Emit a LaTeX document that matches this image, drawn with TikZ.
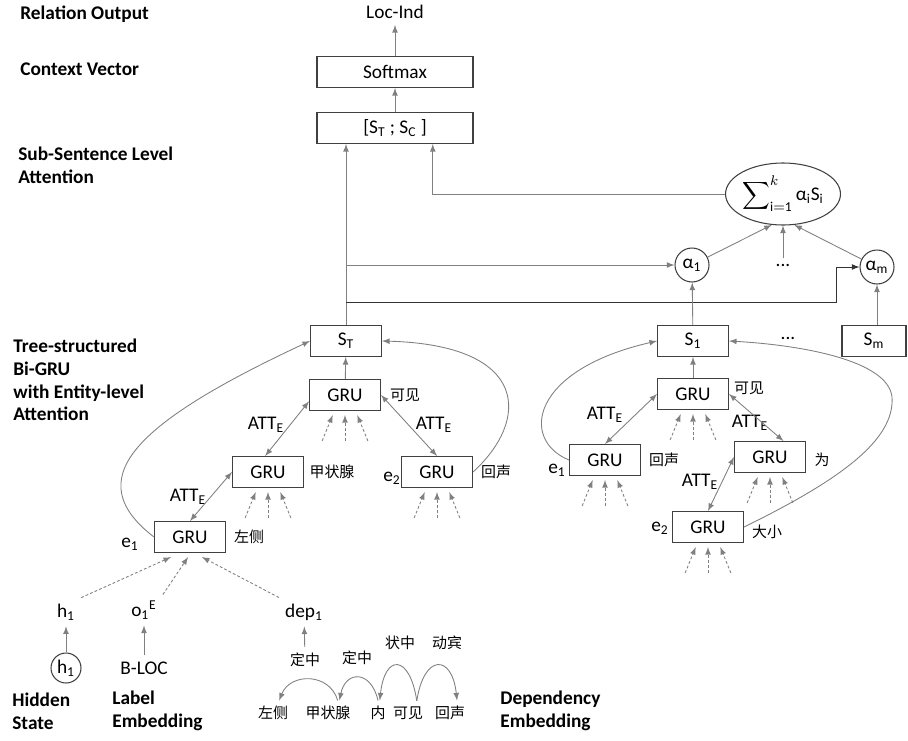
\documentclass[tikz,border=0pt]{standalone}
\usepackage{fontspec}
\setmainfont{Carlito}
\newfontfamily\cjk{Noto Sans CJK SC}
\usepackage{amsmath}
\usetikzlibrary{shapes.geometric}

\begin{document}
\begin{tikzpicture}[x=0.02cm,y=-0.02cm,
  font=\fontsize{11}{13}\selectfont,
  cellbox/.style={draw=black!75,line width=0.6pt,minimum width=1.42cm,minimum height=0.62cm,inner sep=0},
  widebox/.style={cellbox,minimum width=3.12cm},
  roundnode/.style={circle,draw=black!75,line width=0.6pt,minimum size=0.68cm,inner sep=0},
  link/.style={draw=black!50,line width=0.5pt,-{latex}},
  both/.style={link,{latex}-{latex}},
  fan/.style={link,dash pattern=on 1.6pt off 1.2pt},
  cn/.style={font=\cjk\fontsize{8.5}{10}\selectfont},
  side/.style={font=\bfseries\fontsize{11}{13}\selectfont,align=left,anchor=west,inner sep=0}]
\useasboundingbox (0,0) rectangle (908,740);

% layer names
\node[side] (lrel) at (20,14) {Relation Output};
\node[side] (lctx) at (20,69) {Context Vector};
\node[side] (latt) at (18,165) {Sub-Sentence Level\\Attention};
\node[side] (ltree) at (13,380) {Tree-structured\\Bi-GRU\\with Entity-level\\Attention};
\node[side] (lhid) at (12,711) {Hidden\\State};
\node[side] (llab) at (112,711) {Label\\Embedding};
\node[side] (ldep) at (500,711) {Dependency\\Embedding};

% output part
\node (loc) at (395,12) {Loc-Ind};
\node[widebox] (soft) at (395,72) {Softmax};
\node[widebox] (cat) at (395,128) {[S\textsubscript{T} ; S\textsubscript{C} ]};
\draw[link] (soft) -- (loc);
\draw[link] (cat) -- (soft);

\node[ellipse,draw=black!75,line width=0.6pt,minimum width=1.82cm,minimum height=1.24cm,inner sep=0] (sum) at (783,194)
  {$\displaystyle\sum\nolimits_{\mathrm{i=1}}^{k}$\,α\textsubscript{i}S\textsubscript{i}};
\node[roundnode] (a1) at (692,265) {α\textsubscript{1}};
\node[roundnode] (am) at (877,267) {α\textsubscript{m}};
\node (dd1) at (783,265) {...};

\node[cellbox] (st) at (346,341) {S\textsubscript{T}};
\node[cellbox] (s1) at (693,341) {S\textsubscript{1}};
\node[cellbox,minimum width=1.28cm] (sm) at (874,341) {S\textsubscript{m}};
\node (dd2) at (788,338) {...};

\coordinate (kink) at (836,302);
\draw[link] (st) -- (st |- cat.south);
\draw[link] (st.north |- a1) -- (a1);
\draw[link,draw=black!80] (st.north |- kink) -- (kink) |- (am.west);
\draw[link] (sum.west) -| ([xshift=21.5pt]cat.south);
\draw[link] (a1) -- (sum.250);
\draw[link] (dd1) -- (sum);
\draw[link] (am) -- (sum.290);
\draw[link] (s1) -- (a1);
\draw[link] (am |- sm.north) -- (am);

% tree of the first sub-sentence
\node[cellbox] (gv) at (345,395) {GRU};
\node[cellbox] (gj) at (268,472) {GRU};
\node[cellbox] (gh) at (437,472) {GRU};
\node[cellbox] (gz) at (190,537) {GRU};
\node[cn] (cgv) at (405,395) {可见};
\node[cn] (cgj) at (332,472) {甲状腺};
\node[cn] (cgh) at (496,472) {回声};
\node[cn] (cgz) at (249,537) {左侧};
\node (ge1) at (130,544) {e\textsubscript{1}};
\node (ge2) at (392,478) {e\textsubscript{2}};
\node (gat1) at (188,497) {ATT\textsubscript{E}};
\node (gat2) at (266,425) {ATT\textsubscript{E}};
\node (gat3) at (434,425) {ATT\textsubscript{E}};
\draw[link] (gv) -- (st);
\draw[both] (gz.north) -- (gj.west);
\draw[both] (gj.100) -- (gv.190);
\draw[both] (gv.east) -- (gh.north);
\draw[link] (gz.west) .. controls (80,480) and (130,425) .. (st.west);
\draw[link] (gh.east) .. controls (530,420) and (530,345) .. (st.east);

% tree of the second sub-sentence
\node[cellbox] (rv) at (693,394) {GRU};
\node[cellbox] (rh) at (605,460) {GRU};
\node[cellbox] (rw) at (770,457) {GRU};
\node[cellbox] (rd) at (708,527) {GRU};
\node[cn] (crv) at (749,388) {可见};
\node[cn] (crh) at (664,460) {回声};
\node[cn] (crw) at (822,460) {为};
\node[cn] (crd) at (767,532) {大小};
\node (re1) at (557,470) {e\textsubscript{1}};
\node (re2) at (660,528) {e\textsubscript{2}};
\node (rat1) at (605,415) {ATT\textsubscript{E}};
\node (rat2) at (750,423) {ATT\textsubscript{E}};
\node (rat3) at (700,482) {ATT\textsubscript{E}};
\coordinate (turn) at (892,397);
\draw[link] (rv) -- (s1);
\draw[both] (rh.north) -- (rv.west);
\draw[both] (rv.east) -- (rw.50);
\draw[both] (rd.north) -- (rw.west);
\draw[link] (rh.west) .. controls (520,440) and (530,370) .. (s1.west);
\draw[link] (rd.east) .. controls (840,480) and (895,440) .. (turn) .. controls (888,360) and (800,345) .. (s1.east);

% word inputs
\foreach \g in {gv,gj,gh,rv,rh,rw,rd} {
  \draw[fan] ([xshift=-13pt,yshift=-17pt]\g.south) -- ([xshift=-7pt,yshift=-2.3pt]\g.south);
  \draw[fan] ([yshift=-17pt]\g.south) -- ([yshift=-2.3pt]\g.south);
  \draw[fan] ([xshift=13pt,yshift=-17pt]\g.south) -- ([xshift=7pt,yshift=-2.3pt]\g.south);
}

% embeddings of the first word
\node (h1) at (66,612) {h\textsubscript{1}};
\node (o1) at (144,610) {o\textsubscript{1}\textsuperscript{E}};
\node (dep1) at (304,612) {dep\textsubscript{1}};
\draw[fan] (h1.north east) -- ([xshift=-10.8pt,yshift=-2.3pt]gz.south);
\draw[fan] (o1.north east) -- ([xshift=-1.1pt,yshift=-2.3pt]gz.south);
\draw[fan] (dep1.north west) -- ([xshift=6.8pt,yshift=-2.3pt]gz.south);
\node[roundnode,minimum size=0.6cm] (hc) at (66,668) {h\textsubscript{1}};
\node (bloc) at (144,668) {B-LOC};
\draw[link] (hc) -- (h1);
\draw[link] (bloc) -- (o1);

% dependency tree
\node[cn] (dz1) at (305,660) {定中};
\node[cn] (dz2) at (357,658) {定中};
\node[cn] (dzz) at (400,643) {状中};
\node[cn] (ddb) at (447,643) {动宾};
\draw[link] (dz1) -- (dep1);
\node[cn,inner sep=3pt] (w1) at (273,713) {左侧};
\node[cn,inner sep=3pt] (w2) at (328,713) {甲状腺};
\node[cn,inner sep=3pt] (w3) at (378,713) {内};
\node[cn,inner sep=3pt] (w4) at (408,713) {可见};
\node[cn,inner sep=3pt] (w5) at (450,713) {回声};
\draw[link] ([xshift=5.5pt]w2.north) .. controls +(-8,-28) and +(11,-28) .. ([xshift=3.5pt]w1.north);
\draw[link] (w3.north) .. controls +(-7,-31) and +(6,-30) .. ([xshift=6.5pt]w2.north);
\draw[link] ([xshift=5pt]w4.north) .. controls +(-7,-47) and +(5,-47) .. ([xshift=1pt]w3.north);
\draw[link] ([xshift=5pt]w4.north) .. controls +(7,-47) and +(-5,-47) .. ([xshift=4pt]w5.north);
\end{tikzpicture}
\end{document}
